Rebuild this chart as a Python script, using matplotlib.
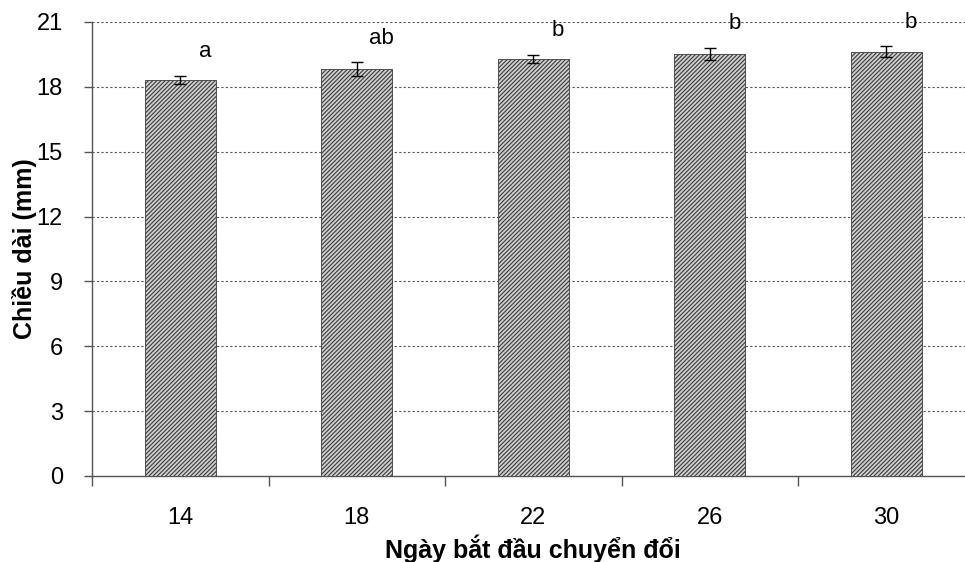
import matplotlib.pyplot as plt
import numpy as np

plt.rcParams['font.family'] = ['Liberation Sans', 'DejaVu Sans']
plt.rcParams['hatch.linewidth'] = 0.8

# data
days = ["14", "18", "22", "26", "30"]
length = [18.32, 18.81, 19.29, 19.52, 19.63]
err = [0.19, 0.32, 0.18, 0.28, 0.24]
letters = ["a", "ab", "b", "b", "b"]

fig = plt.figure(figsize=(9.65, 5.62), dpi=100)
ax = fig.add_axes([92 / 965, 86 / 562, 882.5 / 965, 454 / 562])

x = np.arange(len(days))
ax.bar(x, length, width=0.4, color='#d0d0d0', edgecolor='#3a3a3a',
       hatch='////////', linewidth=0.6, zorder=3)
ax.errorbar(x, length, yerr=err, fmt='none', ecolor='black',
            elinewidth=1.0, capsize=4, capthick=1.0, zorder=4)

# significance letters above each bar
for xi, yi, e, lab in zip(x, length, err, letters):
    ax.annotate(lab, (xi + 0.14, yi + e), xytext=(0, 10),
                textcoords='offset points', ha='center', va='bottom',
                fontsize=16)

ax.set_xlim(-0.5, len(days) - 0.5)
ax.set_ylim(0, 21)
ax.set_yticks(np.arange(0, 22, 3))
ax.set_xticks(x)
ax.set_xticklabels(days)
ax.set_xticks(np.arange(-0.5, len(days), 1), minor=True)
ax.tick_params(axis='x', which='major', length=0, pad=22, labelsize=17)
ax.tick_params(axis='x', which='minor', length=7, width=1, color='#555555')
ax.tick_params(axis='y', length=6, width=1, color='#555555', labelsize=17, pad=15)

ax.grid(axis='y', linestyle=(0, (2, 2)), color='#555555', linewidth=0.8, zorder=0)
ax.set_axisbelow(True)
for s in ['top', 'right']:
    ax.spines[s].set_visible(False)
for s in ['left', 'bottom']:
    ax.spines[s].set_color('#555555')
    ax.spines[s].set_linewidth(1)

ax.set_xlabel("Ngày bắt đầu chuyển đổi", fontsize=18, fontweight='bold', labelpad=4)
ax.set_ylabel("Chiều dài (mm)", fontsize=18, fontweight='bold', labelpad=0)

fig.savefig("out.png", dpi=100)
